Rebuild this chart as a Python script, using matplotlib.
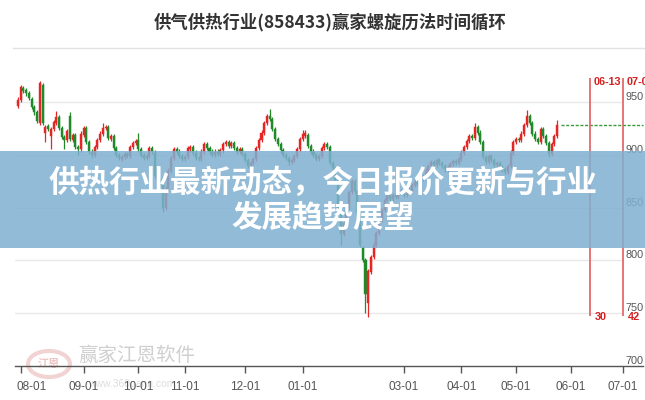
import matplotlib
matplotlib.use('Agg')
import matplotlib.pyplot as plt
import matplotlib.transforms as mtrans
from matplotlib.patches import Rectangle, Circle
from matplotlib.lines import Line2D
import numpy as np
import pandas as pd

plt.rcParams['font.family'] = ['Noto Sans CJK SC', 'DejaVu Sans']

# ---------------- data ----------------
title = "供气供热行业(858433)赢家螺旋历法时间循环"
banner_lines = ["供热行业最新动态，今日报价更新与行业", "发展趋势展望"]
watermark = "赢家江恩软件"
watermark_url = "www.360gann.com"

start_date = "2023-07-31"
end_date = "2024-07-05"
holidays = ["2023-09-29", "2023-10-02", "2023-10-03", "2023-10-04", "2023-10-05",
            "2023-10-06", "2024-01-01", "2024-02-09", "2024-02-12", "2024-02-13",
            "2024-02-14", "2024-02-15", "2024-02-16", "2024-04-04", "2024-04-05",
            "2024-05-01", "2024-05-02", "2024-05-03", "2024-06-10"]

opens = [946, 952, 963, 961, 958, 953, 945, 940, 930, 966,
         921, 927, 918, 924, 930, 936, 925, 917, 914, 937,
         914, 919, 907, 905, 919, 925, 912, 903, 900, 907,
         914, 920, 925, 926, 915, 918, 906, 900, 896, 898,
         901, 899, 907, 911, 914, 905, 900, 897, 899, 906,
         902, 880, 876, 878, 850, 868, 885, 897, 905, 903,
         899, 896, 898, 905, 907, 902, 897, 896, 903, 910,
         906, 903, 900, 903, 901, 904, 910, 912, 908, 911,
         906, 903, 905, 901, 895, 889, 892, 896, 906, 914,
         921, 930, 937, 934, 924, 915, 910, 904, 900, 897,
         893, 895, 899, 905, 915, 918, 919, 908, 903, 900,
         896, 899, 906, 910, 907, 892, 887, 876, 848, 825,
         835, 850, 865, 875, 866, 845, 812, 800, 760, 789,
         803, 815, 826, 838, 848, 857, 862, 858, 862, 860,
         864, 866, 862, 868, 866, 871, 874, 872, 877, 880,
         885, 889, 893, 890, 895, 892, 889, 886, 888, 891,
         894, 892, 896, 902, 907, 913, 918, 916, 926, 921,
         912, 898, 893, 899, 895, 890, 892, 888, 886, 884,
         889, 902, 912, 915, 914, 920, 928, 937, 930, 920,
         915, 912, 924, 918, 911, 901, 910, 918]

closes = [952, 964, 960, 958, 954, 945, 940, 932, 968, 930,
          926, 924, 924, 931, 936, 925, 917, 914, 922, 915,
          919, 907, 905, 920, 925, 912, 903, 900, 907, 914,
          920, 925, 926, 916, 918, 906, 900, 897, 898, 901,
          899, 907, 911, 913, 905, 900, 897, 899, 906, 903,
          880, 876, 872, 850, 868, 885, 897, 905, 903, 899,
          896, 898, 906, 907, 902, 897, 896, 903, 910, 906,
          903, 900, 903, 901, 904, 910, 912, 908, 911, 906,
          903, 905, 901, 895, 889, 892, 896, 906, 914, 921,
          930, 937, 934, 924, 915, 910, 904, 900, 897, 893,
          895, 899, 905, 915, 920, 921, 908, 903, 900, 896,
          899, 906, 910, 907, 892, 887, 876, 850, 825, 835,
          850, 865, 875, 866, 845, 815, 800, 768, 790, 803,
          815, 826, 838, 848, 857, 862, 858, 862, 860, 864,
          866, 862, 868, 866, 871, 874, 872, 877, 880, 885,
          889, 893, 890, 895, 892, 889, 886, 888, 891, 894,
          892, 896, 902, 907, 913, 918, 916, 926, 921, 912,
          898, 893, 899, 895, 890, 892, 888, 886, 884, 889,
          902, 912, 915, 914, 920, 928, 937, 930, 920, 915,
          912, 924, 918, 911, 901, 910, 918, 928]

highs = [955, 966, 965, 963, 960, 955, 947, 942, 970, 968,
         928, 929, 926, 933, 941, 938, 927, 919, 924, 940,
         921, 921, 909, 922, 927, 927, 914, 905, 909, 916,
         922, 930, 928, 928, 920, 920, 908, 902, 900, 903,
         903, 909, 913, 915, 921, 907, 902, 901, 908, 908,
         904, 882, 878, 880, 870, 887, 899, 907, 907, 905,
         901, 900, 908, 909, 909, 904, 899, 905, 912, 912,
         908, 905, 905, 905, 906, 912, 914, 914, 913, 913,
         908, 907, 907, 903, 897, 894, 898, 908, 916, 923,
         932, 939, 943, 936, 926, 917, 912, 906, 902, 899,
         897, 901, 907, 917, 923, 923, 921, 910, 905, 902,
         901, 908, 912, 912, 909, 894, 889, 878, 850, 837,
         852, 867, 877, 877, 868, 847, 814, 802, 792, 805,
         817, 828, 840, 850, 859, 864, 864, 864, 864, 866,
         868, 868, 870, 870, 873, 876, 876, 879, 882, 887,
         891, 895, 895, 897, 897, 894, 891, 890, 893, 896,
         896, 898, 904, 909, 915, 920, 920, 930, 928, 923,
         914, 900, 901, 901, 897, 894, 894, 890, 888, 891,
         904, 914, 917, 917, 922, 930, 942, 939, 932, 922,
         917, 926, 926, 920, 913, 912, 920, 933]

lows = [944, 950, 958, 956, 952, 943, 938, 930, 928, 928,
        912, 922, 905, 922, 928, 923, 915, 905, 912, 913,
        912, 905, 900, 903, 917, 910, 901, 897, 898, 905,
        912, 918, 923, 914, 913, 904, 898, 895, 894, 896,
        897, 897, 905, 909, 903, 898, 895, 895, 897, 901,
        878, 874, 870, 846, 848, 866, 883, 895, 901, 897,
        894, 894, 896, 903, 900, 895, 894, 894, 901, 904,
        901, 898, 898, 899, 899, 902, 908, 906, 906, 904,
        901, 901, 899, 893, 887, 887, 890, 894, 904, 912,
        919, 928, 932, 922, 913, 908, 902, 898, 895, 890,
        891, 893, 897, 903, 913, 916, 906, 901, 898, 894,
        894, 897, 904, 905, 890, 885, 874, 848, 815, 823,
        833, 848, 863, 864, 843, 813, 798, 750, 746, 787,
        801, 813, 824, 836, 846, 855, 856, 856, 858, 858,
        862, 860, 860, 864, 864, 869, 870, 870, 875, 878,
        883, 887, 888, 888, 890, 887, 884, 884, 886, 889,
        890, 890, 894, 900, 905, 911, 914, 914, 919, 910,
        896, 891, 891, 893, 888, 888, 886, 884, 882, 882,
        887, 900, 910, 912, 912, 918, 926, 928, 918, 913,
        910, 910, 916, 909, 898, 899, 908, 916]

tick_dates = ["2023-08-01", "2023-09-01", "2023-10-01", "2023-11-01", "2023-12-01",
              "2024-01-01", "2024-03-01", "2024-04-01", "2024-05-01", "2024-06-01",
              "2024-07-01"]
tick_labels = ["08-01", "09-01", "10-01", "11-01", "12-01", "01-01",
               "03-01", "04-01", "05-01", "06-01", "07-01"]
y_ticks = [700, 750, 800, 850, 900, 950]
marker_dates = ["2024-06-13", "2024-07-01"]
marker_top_labels = ["06-13", "07-01"]
marker_bottom_labels = ["30", "42"]
marker_range = (747, 973)

# ---------------- figure ----------------
W, H = 645, 400
fig = plt.figure(figsize=(W / 100, H / 100), dpi=100, facecolor='white')

def fx(px):
    return px / W

def fy(py):
    return 1 - py / H

ax_l, ax_r, ax_t, ax_b = 15, 623, 48, 366
ax = fig.add_axes([fx(ax_l), fy(ax_b), fx(ax_r - ax_l), (ax_b - ax_t) / H])
ax.set_facecolor('none')

days = pd.bdate_range(start_date, end_date, freq='C', holidays=holidays)
def pos(d):
    return int(days.searchsorted(pd.Timestamp(d)))

n = len(closes)
x = np.arange(n)
o = np.array(opens, float)
c = np.array(closes, float)
hi = np.array(highs, float)
lo = np.array(lows, float)

RED = '#e32626'
GREEN = '#22892a'
cols = [RED if cc >= oo else GREEN for oo, cc in zip(o, c)]

xl = (-1.08, 221.1)
ax.set_xlim(*xl)
ax.set_ylim(700, 1001)

for yv in y_ticks[1:]:
    ax.axhline(yv, color='#e9e9e9', lw=1, zorder=0)

ax.vlines(x, lo, hi, colors=cols, lw=0.9, zorder=2)
body = np.where(np.abs(c - o) < 0.8, 0.8, c - o)
ax.bar(x, body, bottom=np.where(np.abs(c - o) < 0.8, o - 0.4, o), width=0.74,
       color=cols, edgecolor=cols, lw=0.3, zorder=3)

# projection dashed line from last close
px_per_idx = (ax_r - ax_l) / (xl[1] - xl[0])
x_end = xl[1] + (643 - ax_r) / px_per_idx
ax.plot([n + 0.4, x_end], [closes[-1], closes[-1]], color='#3a9a3a', lw=1,
        ls=(0, (2.2, 1.2)), clip_on=False, zorder=2)

# red time-cycle markers
for d, tl, bl in zip(marker_dates, marker_top_labels, marker_bottom_labels):
    p = pos(d)
    ax.vlines(p, marker_range[0], marker_range[1], colors='#e36a6a', lw=1.3,
              clip_on=False, zorder=4)
    ax.text(p + 1.5, 968.5, tl, color='#d42020', fontsize=7.8, fontweight='bold',
            va='center', ha='left', family=['Liberation Sans', 'DejaVu Sans'],
            clip_on=False, zorder=4)
    ax.text(p + 1.7, 746.5, bl, color='#d42020', fontsize=7.8, fontweight='bold',
            va='center', ha='left', family=['Liberation Sans', 'DejaVu Sans'],
            clip_on=False, zorder=4)

# axes styling
for s in ['left', 'right', 'top', 'bottom']:
    ax.spines[s].set_visible(False)
ax.set_yticks([])
ax.set_xticks([pos(d) for d in tick_dates])
ax.set_xticklabels(tick_labels, family=['Liberation Sans', 'DejaVu Sans'],
                   fontsize=8.5, color='#555555')
ax.tick_params(axis='x', length=5, width=1, color='#555555', pad=5.5)
first = ax.get_xticklabels()[0]
first.set_ha('left')
first.set_transform(first.get_transform() +
                    mtrans.ScaledTranslation(-4.5 / 100, 0, fig.dpi_scale_trans))

# y labels on the right
tr = mtrans.blended_transform_factory(ax.transAxes, ax.transData)
for yv in y_ticks:
    ax.text(1 + 2.5 / (ax_r - ax_l), yv + 4.6, str(yv), transform=tr,
            fontsize=7.8, color='#555555', va='center', ha='left',
            family=['Liberation Sans', 'DejaVu Sans'], clip_on=False)

# top and bottom frame lines
fig.add_artist(Line2D([fx(13), fx(645)], [fy(48), fy(48)], color='#e2e2e2', lw=1))
fig.add_artist(Line2D([fx(15), fx(643)], [fy(366), fy(366)], color='#555555', lw=1,
                      zorder=3))

# title
fig.text(fx(330), fy(22), title, ha='center', va='center', fontsize=12.5,
         fontweight='bold', color='#333333')

# watermark
fig.add_artist(Circle((fx(49), fy(364)), radius=21 / W, transform=fig.transFigure,
                      facecolor='none', edgecolor='#efc9c9', lw=3, zorder=-1,
                      alpha=0.8))
fig.text(fx(49), fy(364), "江恩", ha='center', va='center', fontsize=8,
         color='#eec3c3', zorder=-1, fontweight='bold')
fig.text(fx(78), fy(355), watermark, ha='left', va='center', fontsize=14,
         color='#cfcfcf', zorder=-1)
fig.text(fx(88), fy(384), watermark_url, ha='left', va='center', fontsize=7.5,
         color='#dedede', zorder=-1, family=['Liberation Sans', 'DejaVu Sans'])

# banner overlay
fig.add_artist(Rectangle((0, fy(248)), 1, (248 - 151) / H, transform=fig.transFigure,
                         facecolor='#7fb0d1', edgecolor='none', alpha=0.85, zorder=5))
fig.text(fx(323), fy(183), banner_lines[0], ha='center', va='center', fontsize=22,
         fontweight='bold', color='white', zorder=6)
fig.text(fx(323), fy(218), banner_lines[1], ha='center', va='center', fontsize=22,
         fontweight='bold', color='white', zorder=6)

fig.savefig('out.png', dpi=100, facecolor='white')
